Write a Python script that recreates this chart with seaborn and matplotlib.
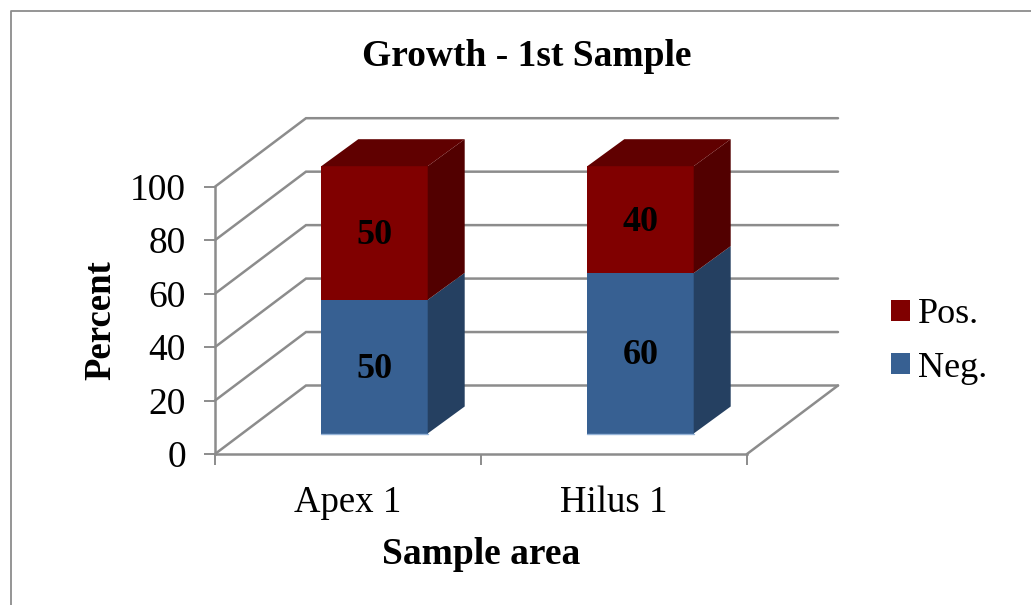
import matplotlib
matplotlib.use('Agg')
import matplotlib.pyplot as plt
from matplotlib.lines import Line2D
from matplotlib.transforms import Affine2D
import numpy as np
import seaborn as sns

areas = ['Apex 1', 'Hilus 1']
neg = [50, 60]
pos = [50, 40]
yticks = [0, 20, 40, 60, 80, 100]

RED, RED_TOP, RED_SIDE = '#800000', '#600000', '#520000'
BLUE, BLUE_SIDE, BLUE_EDGE = '#376092', '#254061', '#95B3D7'
GREY = '#8c8c8c'

sns.set_style('white')
plt.rcParams['font.family'] = ['Liberation Serif', 'DejaVu Serif']
plt.rcParams['text.color'] = 'black'
plt.rcParams['axes.labelcolor'] = 'black'
plt.rcParams['xtick.labelcolor'] = 'black'
plt.rcParams['ytick.labelcolor'] = 'black'

W, H = 1031, 605
fig = plt.figure(figsize=(W / 100, H / 100), dpi=100)
ax = fig.add_axes([215 / W, 1 - 454 / H, 532 / W, 267.3 / H])

# pixels -> data units for the fake 3d depth
px_x = 2 / 532
px_y = 100 / 267.3
wall_dx, wall_dy = 91 * px_x, 68.5 * px_y
shift_px = (26.5, 20.5)
bar_dx, bar_dy = shift_px[0] * px_x, shift_px[1] * px_y
side_dx, side_dy = 37 * px_x, 27 * px_y
bar_w = 0.4
text_drop = 2.5 * px_y

totals = np.array(neg) + np.array(pos)
sns.barplot(x=areas, y=totals, color=RED, saturation=1, width=bar_w, label='Pos.', ax=ax, zorder=3)
sns.barplot(x=areas, y=neg, color=BLUE, saturation=1, width=bar_w, label='Neg.', ax=ax, zorder=3)

# front faces sit part way into the floor
move = ax.transData + Affine2D().translate(*shift_px)
for p in ax.patches:
    p.set_transform(move)
    p.set_linewidth(0)
    p.set_clip_on(False)

ax.set_xlim(-0.5, 1.5)
ax.set_ylim(0, 100)

# walls and floor
for v in yticks:
    ax.plot([-0.5, -0.5 + wall_dx, 1.5 + wall_dx], [v, v + wall_dy, v + wall_dy],
            color=GREY, lw=1.8, clip_on=False, zorder=1, solid_joinstyle='miter')
ax.plot([1.5, 1.5 + wall_dx], [0, wall_dy], color=GREY, lw=1.8, clip_on=False, zorder=1)

# sides and tops of the boxes
for i in range(len(areas)):
    x1 = i - bar_w / 2 + bar_dx
    x2 = i + bar_w / 2 + bar_dx
    y0 = bar_dy
    y1 = neg[i] + bar_dy
    y2 = totals[i] + bar_dy
    ax.fill([x2, x2 + side_dx, x2 + side_dx, x2], [y0, y0 + side_dy, y1 + side_dy, y1],
            color=BLUE_SIDE, lw=0, clip_on=False, zorder=3)
    ax.fill([x2, x2 + side_dx, x2 + side_dx, x2], [y1, y1 + side_dy, y2 + side_dy, y2],
            color=RED_SIDE, lw=0, clip_on=False, zorder=3)
    ax.fill([x1, x2, x2 + side_dx, x1 + side_dx], [y2, y2, y2 + side_dy, y2 + side_dy],
            color=RED_TOP, lw=0, clip_on=False, zorder=3)
    ax.plot([x1, x2], [y0, y0], color=BLUE_EDGE, lw=1, clip_on=False, zorder=4)
    xc = i + bar_dx
    ax.text(xc, neg[i] / 2 + bar_dy - text_drop, str(neg[i]), ha='center', va='center', fontsize=26,
            fontweight='bold', color='black', zorder=5)
    ax.text(xc, neg[i] + pos[i] / 2 + bar_dy - text_drop, str(pos[i]), ha='center', va='center', fontsize=26,
            fontweight='bold', color='black', zorder=5)

sns.despine(ax=ax)
for s in ('left', 'bottom'):
    ax.spines[s].set_color(GREY)
    ax.spines[s].set_linewidth(1.8)

ax.set_yticks(yticks)
ax.tick_params(axis='y', left=True, length=8, width=1.4, color=GREY, pad=13, labelsize=27)
ax.set_xticks([-0.5, 0.5, 1.5], minor=True)
ax.tick_params(axis='x', which='minor', bottom=True, length=8, width=1.4, color=GREY)
ax.tick_params(axis='x', which='major', bottom=False, length=0, pad=22.5, labelsize=26.5)

ax.set_xlabel('Sample area', fontsize=27, fontweight='bold', labelpad=12.5)
ax.set_ylabel('Percent', fontsize=26.5, fontweight='bold', labelpad=8)
fig.text(527 / W, 1 - 56 / H, 'Growth - 1st Sample', ha='center', va='center', fontsize=27, fontweight='bold')

h, l = ax.get_legend_handles_labels()
ax.legend(h[::-1] if l[0] == 'Neg.' else h, ['Pos.', 'Neg.'], frameon=False, fontsize=26,
          loc='center left', bbox_to_anchor=(891 / W, 1 - 341.5 / H), bbox_transform=fig.transFigure,
          handlelength=0.52, handleheight=0.52, handletextpad=0.22, labelspacing=0.56,
          borderpad=0, borderaxespad=0)

# chart frame, cut off by the image edge
fig.add_artist(Line2D([10.5 / W, 10.5 / W, 1], [0, 1 - 10.5 / H, 1 - 10.5 / H], color=GREY, lw=1.3))

fig.savefig('out.png', dpi=100)
